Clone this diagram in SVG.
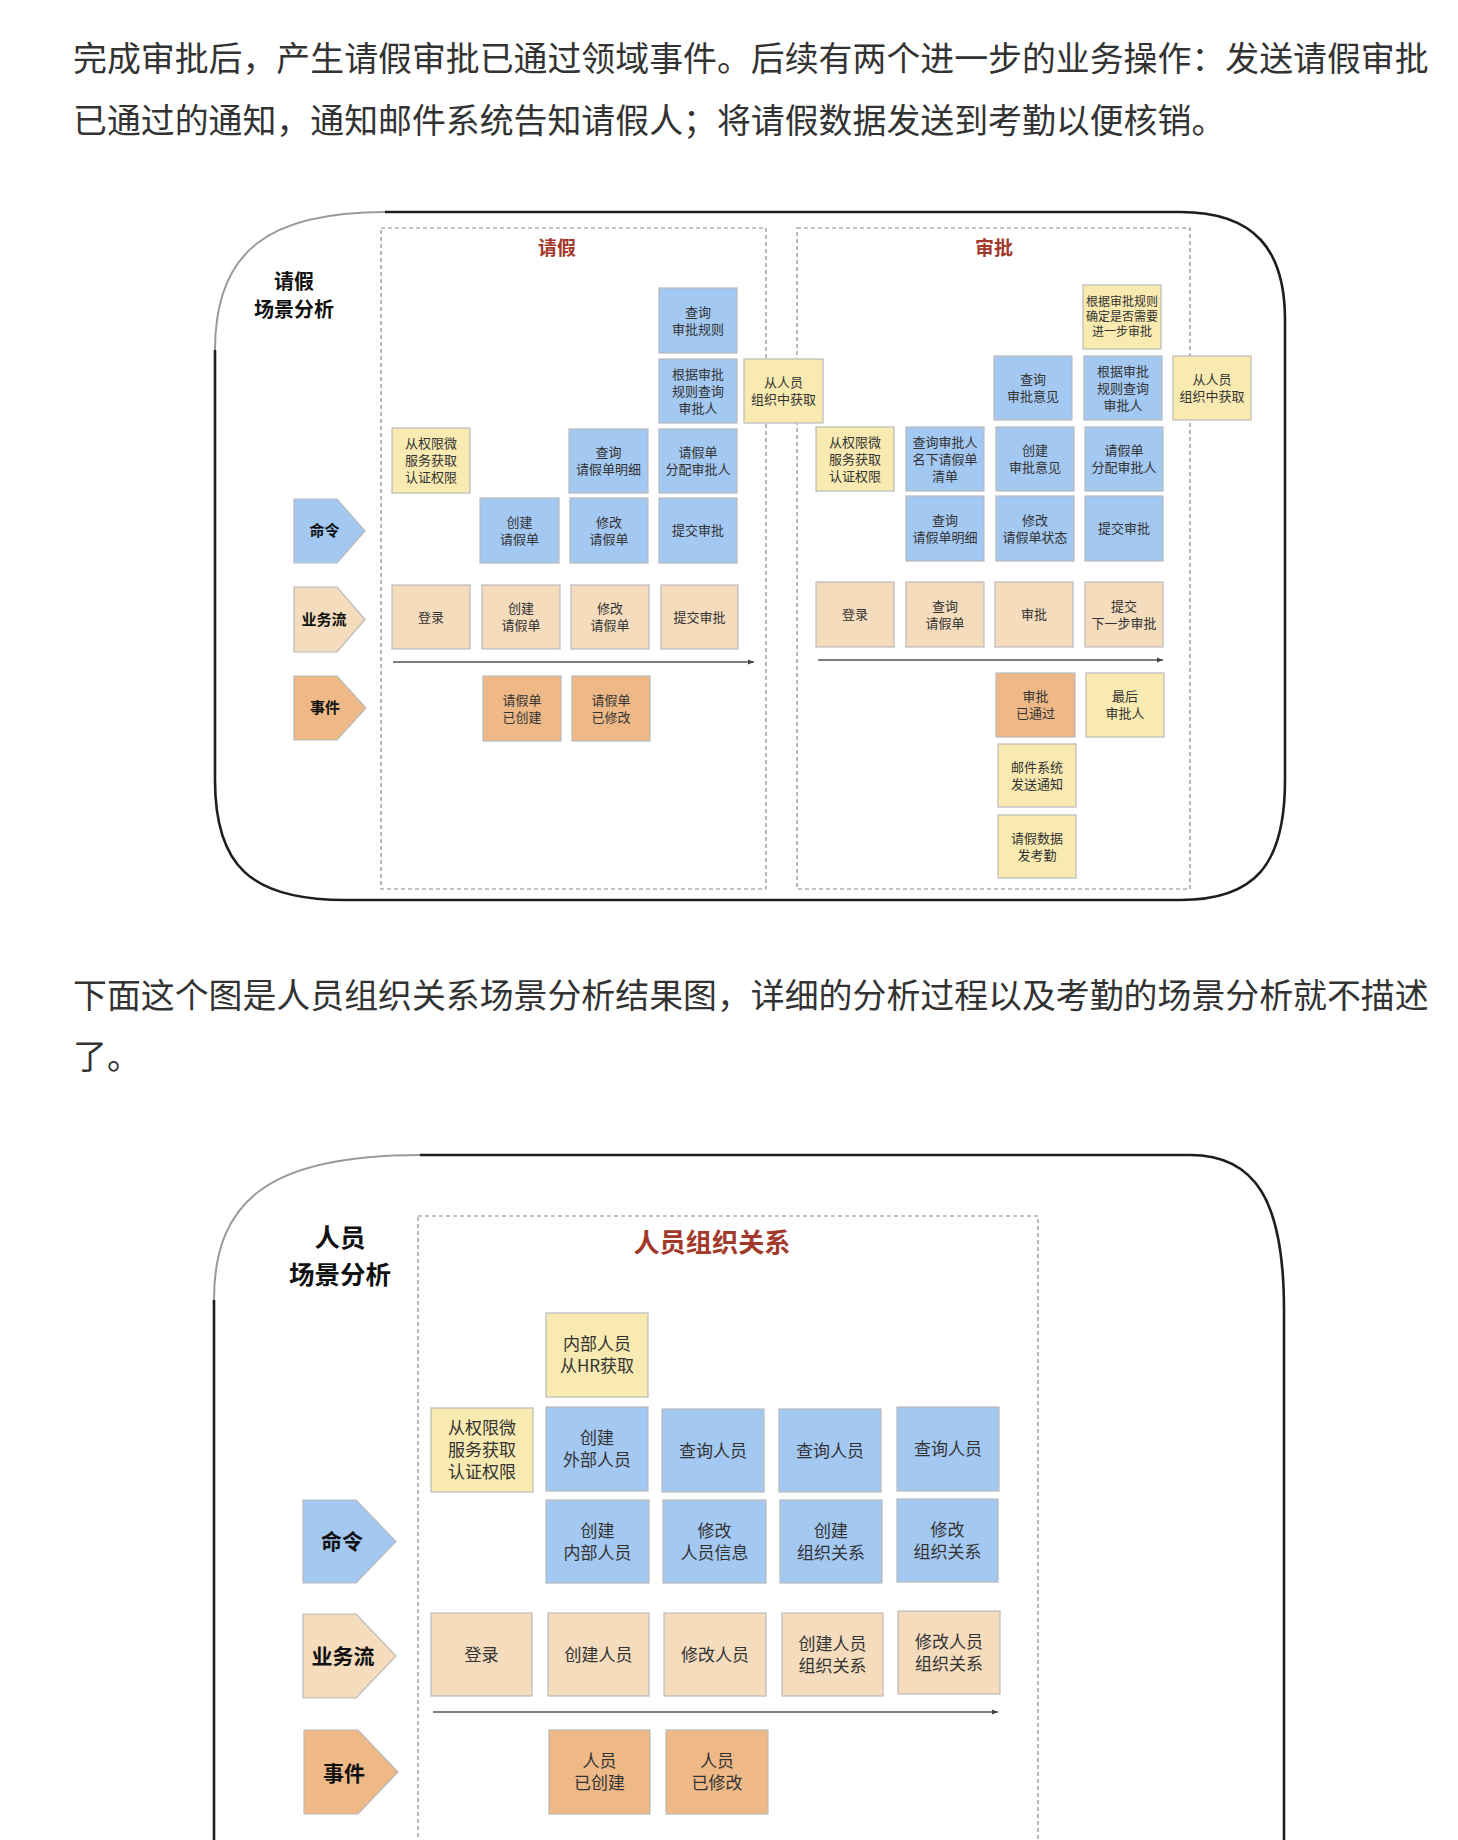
<svg xmlns="http://www.w3.org/2000/svg" width="1458" height="1840" viewBox="0 0 1458 1840">
<style>
.para{font-family:"Noto Sans CJK SC","Noto Sans",sans-serif;font-size:33.9px;fill:#333}
.box{stroke:#b9b9b9;stroke-width:1.2}
.b{fill:#a3c8f2}.y{fill:#f8eab0}.p{fill:#f4dcbd}.o{fill:#eeb987}
.t{font-family:"Noto Sans CJK SC","Noto Sans",sans-serif;fill:#333;text-anchor:middle}
.s13{font-size:13px}.s12{font-size:12px}.s17{font-size:17px}
.lbl{font-family:"Noto Sans CJK SC","Noto Sans",sans-serif;font-weight:bold;fill:#111;text-anchor:middle}
.ttl{font-family:"Noto Sans CJK SC","Noto Sans",sans-serif;font-weight:bold;fill:#a3392b;text-anchor:middle}
.dash{fill:none;stroke:#888;stroke-width:1.2;stroke-dasharray:4 3}
.outer{fill:none;stroke:#1e1e1e;stroke-width:2.6}
.outerl{fill:none;stroke:#9a9a9a;stroke-width:2}
.flow{stroke:#555;stroke-width:1.6;fill:none}
</style>
<defs>
<marker id="ah" markerWidth="8" markerHeight="8" refX="6" refY="4" orient="auto" markerUnits="userSpaceOnUse">
<path d="M0,1.5 L6,4 L0,6.5 Z" fill="#444"/>
</marker>
</defs>
<rect width="1458" height="1840" fill="#fff"/>

<g id="paragraph1">
<text class="para" x="73" y="70.5">完成审批后，产生请假审批已通过领域事件。后续有两个进一步的业务操作：发送请假审批</text>
<text class="para" x="73" y="132.5">已通过的通知，通知邮件系统告知请假人；将请假数据发送到考勤以便核销。</text>
</g>

<g id="diagram1-frame">
<path class="outer" d="M215,350 L215,780 C215,865 250,900 345,900 L1180,900 C1255,900 1285,865 1285,780 L1285,320 C1285,250 1255,212 1180,212 L385,212"/>
<path class="outerl" d="M385,212 C270,212 215,250 215,350"/>
<rect class="dash" x="381" y="228" width="385" height="661"/>
<rect class="dash" x="797" y="228" width="393" height="661"/>
<text class="lbl" x="294" y="289" font-size="20">请假</text>
<text class="lbl" x="294" y="317" font-size="20">场景分析</text>
<text class="ttl" x="557" y="255" font-size="19">请假</text>
<text class="ttl" x="994" y="255" font-size="19">审批</text>
</g>

<g id="d1-lane-cmd"><polygon class="box b" points="294,499 337,499 365,531 337,563 294,563"/><text class="lbl" x="324.5" y="536.4" font-size="15">命令</text></g>
<g id="d1-lane-flow"><polygon class="box p" points="294,587 337,587 365,619.5 337,652 294,652"/><text class="lbl" x="324" y="625" font-size="15">业务流</text></g>
<g id="d1-lane-event"><polygon class="box o" points="294,676 337,676 366,708 337,740 294,740"/><text class="lbl" x="325" y="713.4" font-size="15">事件</text></g>

<g id="d1-connectors">
<line class="flow" x1="393" y1="662" x2="754" y2="662" marker-end="url(#ah)"/>
<line class="flow" x1="818" y1="660" x2="1163" y2="660" marker-end="url(#ah)"/>
</g>

<!-- 请假 section -->
<g id="qj-query-rule"><rect class="box b" x="659" y="288" width="78" height="65"/><text class="t s13"><tspan x="698" y="316.7">查询</tspan><tspan x="698" y="333.7">审批规则</tspan></text></g>
<g id="qj-find-approver"><rect class="box b" x="659" y="359" width="78" height="64"/><text class="t s13"><tspan x="698" y="378.7">根据审批</tspan><tspan x="698" y="395.7">规则查询</tspan><tspan x="698" y="412.7">审批人</tspan></text></g>
<g id="qj-from-org"><rect class="box y" x="744" y="359" width="79" height="64"/><text class="t s13"><tspan x="783.5" y="387.2">从人员</tspan><tspan x="783.5" y="404.2">组织中获取</tspan></text></g>
<g id="qj-auth"><rect class="box y" x="392" y="428" width="78" height="65"/><text class="t s13"><tspan x="431" y="448.2">从权限微</tspan><tspan x="431" y="465.2">服务获取</tspan><tspan x="431" y="482.2">认证权限</tspan></text></g>
<g id="qj-query-detail"><rect class="box b" x="569" y="429" width="79" height="64"/><text class="t s13"><tspan x="608.5" y="457.2">查询</tspan><tspan x="608.5" y="474.2">请假单明细</tspan></text></g>
<g id="qj-assign"><rect class="box b" x="659" y="429" width="78" height="64"/><text class="t s13"><tspan x="698" y="457.2">请假单</tspan><tspan x="698" y="474.2">分配审批人</tspan></text></g>
<g id="qj-cmd-create"><rect class="box b" x="480" y="498" width="79" height="65"/><text class="t s13"><tspan x="519.5" y="526.7">创建</tspan><tspan x="519.5" y="543.7">请假单</tspan></text></g>
<g id="qj-cmd-modify"><rect class="box b" x="570" y="498" width="78" height="65"/><text class="t s13"><tspan x="609" y="526.7">修改</tspan><tspan x="609" y="543.7">请假单</tspan></text></g>
<g id="qj-cmd-submit"><rect class="box b" x="659" y="498" width="78" height="65"/><text class="t s13" x="698" y="535.2">提交审批</text></g>
<g id="qj-flow-login"><rect class="box p" x="392" y="585" width="78" height="64"/><text class="t s13" x="431" y="621.7">登录</text></g>
<g id="qj-flow-create"><rect class="box p" x="482" y="585" width="78" height="64"/><text class="t s13"><tspan x="521" y="613.2">创建</tspan><tspan x="521" y="630.2">请假单</tspan></text></g>
<g id="qj-flow-modify"><rect class="box p" x="571" y="585" width="78" height="64"/><text class="t s13"><tspan x="610" y="613.2">修改</tspan><tspan x="610" y="630.2">请假单</tspan></text></g>
<g id="qj-flow-submit"><rect class="box p" x="661" y="585" width="77" height="64"/><text class="t s13" x="699.5" y="621.7">提交审批</text></g>
<g id="qj-ev-created"><rect class="box o" x="483" y="676" width="78" height="65"/><text class="t s13"><tspan x="522" y="704.7">请假单</tspan><tspan x="522" y="721.7">已创建</tspan></text></g>
<g id="qj-ev-modified"><rect class="box o" x="572" y="676" width="78" height="65"/><text class="t s13"><tspan x="611" y="704.7">请假单</tspan><tspan x="611" y="721.7">已修改</tspan></text></g>

<!-- 审批 section -->
<g id="sp-rule-next"><rect class="box y" x="1083" y="285" width="78" height="64"/><text class="t s12"><tspan x="1122" y="306.3">根据审批规则</tspan><tspan x="1122" y="321.3">确定是否需要</tspan><tspan x="1122" y="336.3">进一步审批</tspan></text></g>
<g id="sp-query-opinion"><rect class="box b" x="994" y="356" width="78" height="64"/><text class="t s13"><tspan x="1033" y="384.2">查询</tspan><tspan x="1033" y="401.2">审批意见</tspan></text></g>
<g id="sp-find-approver"><rect class="box b" x="1084" y="356" width="78" height="64"/><text class="t s13"><tspan x="1123" y="375.7">根据审批</tspan><tspan x="1123" y="392.7">规则查询</tspan><tspan x="1123" y="409.7">审批人</tspan></text></g>
<g id="sp-from-org"><rect class="box y" x="1173" y="356" width="78" height="64"/><text class="t s13"><tspan x="1212" y="384.2">从人员</tspan><tspan x="1212" y="401.2">组织中获取</tspan></text></g>
<g id="sp-auth"><rect class="box y" x="816" y="427" width="78" height="64"/><text class="t s13"><tspan x="855" y="446.7">从权限微</tspan><tspan x="855" y="463.7">服务获取</tspan><tspan x="855" y="480.7">认证权限</tspan></text></g>
<g id="sp-query-list"><rect class="box b" x="906" y="427" width="78" height="64"/><text class="t s13"><tspan x="945" y="446.7">查询审批人</tspan><tspan x="945" y="463.7">名下请假单</tspan><tspan x="945" y="480.7">清单</tspan></text></g>
<g id="sp-create-opinion"><rect class="box b" x="996" y="427" width="78" height="64"/><text class="t s13"><tspan x="1035" y="455.2">创建</tspan><tspan x="1035" y="472.2">审批意见</tspan></text></g>
<g id="sp-assign"><rect class="box b" x="1085" y="427" width="78" height="64"/><text class="t s13"><tspan x="1124" y="455.2">请假单</tspan><tspan x="1124" y="472.2">分配审批人</tspan></text></g>
<g id="sp-query-detail"><rect class="box b" x="906" y="496" width="78" height="65"/><text class="t s13"><tspan x="945" y="524.7">查询</tspan><tspan x="945" y="541.7">请假单明细</tspan></text></g>
<g id="sp-modify-state"><rect class="box b" x="996" y="496" width="78" height="65"/><text class="t s13"><tspan x="1035" y="524.7">修改</tspan><tspan x="1035" y="541.7">请假单状态</tspan></text></g>
<g id="sp-cmd-submit"><rect class="box b" x="1085" y="496" width="78" height="65"/><text class="t s13" x="1124" y="533.2">提交审批</text></g>
<g id="sp-flow-login"><rect class="box p" x="816" y="582" width="78" height="65"/><text class="t s13" x="855" y="619.2">登录</text></g>
<g id="sp-flow-query"><rect class="box p" x="906" y="582" width="78" height="65"/><text class="t s13"><tspan x="945" y="610.7">查询</tspan><tspan x="945" y="627.7">请假单</tspan></text></g>
<g id="sp-flow-approve"><rect class="box p" x="995" y="582" width="78" height="65"/><text class="t s13" x="1034" y="619.2">审批</text></g>
<g id="sp-flow-next"><rect class="box p" x="1085" y="582" width="78" height="65"/><text class="t s13"><tspan x="1124" y="610.7">提交</tspan><tspan x="1124" y="627.7">下一步审批</tspan></text></g>
<g id="sp-ev-passed"><rect class="box o" x="996" y="673" width="79" height="64"/><text class="t s13"><tspan x="1035.5" y="701.2">审批</tspan><tspan x="1035.5" y="718.2">已通过</tspan></text></g>
<g id="sp-last-approver"><rect class="box y" x="1086" y="673" width="78" height="64"/><text class="t s13"><tspan x="1125" y="701.2">最后</tspan><tspan x="1125" y="718.2">审批人</tspan></text></g>
<g id="sp-mail"><rect class="box y" x="998" y="744" width="78" height="63"/><text class="t s13"><tspan x="1037" y="771.7">邮件系统</tspan><tspan x="1037" y="788.7">发送通知</tspan></text></g>
<g id="sp-attendance"><rect class="box y" x="998" y="815" width="78" height="63"/><text class="t s13"><tspan x="1037" y="842.7">请假数据</tspan><tspan x="1037" y="859.7">发考勤</tspan></text></g>

<g id="paragraph2">
<text class="para" x="73" y="1008">下面这个图是人员组织关系场景分析结果图，详细的分析过程以及考勤的场景分析就不描述</text>
<text class="para" x="73" y="1069">了。</text>
</g>

<g id="diagram2-frame">
<path class="outer" d="M214,1860 L214,1300 M420,1155 L1190,1155 C1255,1155 1284,1200 1284,1310 L1284,1860"/>
<path class="outerl" d="M214,1300 C214,1200 270,1155 420,1155"/>
<rect class="dash" x="418" y="1216" width="620" height="660"/>
<text class="lbl" x="340" y="1247" font-size="25.5">人员</text>
<text class="lbl" x="340" y="1284" font-size="25.5">场景分析</text>
<text class="ttl" x="712" y="1251.5" font-size="26.2">人员组织关系</text>
</g>

<g id="d2-lane-cmd"><polygon class="box b" points="303,1500 356,1500 396,1541.5 356,1583 303,1583"/><text class="lbl" x="342" y="1549" font-size="21">命令</text></g>
<g id="d2-lane-flow"><polygon class="box p" points="303,1614 356,1614 396,1656 356,1698 303,1698"/><text class="lbl" x="343" y="1664" font-size="21">业务流</text></g>
<g id="d2-lane-event"><polygon class="box o" points="304,1730 358,1730 398,1772 358,1814 304,1814"/><text class="lbl" x="344" y="1780.5" font-size="21">事件</text></g>

<g id="d2-connectors">
<line class="flow" x1="433" y1="1712" x2="998" y2="1712" marker-end="url(#ah)"/>
</g>

<g id="ry-hr"><rect class="box y" x="546" y="1313" width="102" height="84"/><text class="t s17"><tspan x="597" y="1350.1">内部人员</tspan><tspan x="597" y="1372.1">从HR获取</tspan></text></g>
<g id="ry-auth"><rect class="box y" x="431" y="1408" width="102" height="84"/><text class="t s17"><tspan x="482" y="1434.1">从权限微</tspan><tspan x="482" y="1456.1">服务获取</tspan><tspan x="482" y="1478.1">认证权限</tspan></text></g>
<g id="ry-create-ext"><rect class="box b" x="546" y="1407" width="102" height="84"/><text class="t s17"><tspan x="597" y="1444.1">创建</tspan><tspan x="597" y="1466.1">外部人员</tspan></text></g>
<g id="ry-query1"><rect class="box b" x="662" y="1409" width="102" height="83"/><text class="t s17" x="713" y="1456.6">查询人员</text></g>
<g id="ry-query2"><rect class="box b" x="779" y="1409" width="102" height="83"/><text class="t s17" x="830" y="1456.6">查询人员</text></g>
<g id="ry-query3"><rect class="box b" x="897" y="1407" width="102" height="84"/><text class="t s17" x="948" y="1455">查询人员</text></g>
<g id="ry-create-int"><rect class="box b" x="546" y="1500" width="103" height="83"/><text class="t s17"><tspan x="597.5" y="1536.6">创建</tspan><tspan x="597.5" y="1558.6">内部人员</tspan></text></g>
<g id="ry-modify-info"><rect class="box b" x="663" y="1500" width="103" height="83"/><text class="t s17"><tspan x="714.5" y="1536.6">修改</tspan><tspan x="714.5" y="1558.6">人员信息</tspan></text></g>
<g id="ry-create-rel"><rect class="box b" x="780" y="1500" width="102" height="83"/><text class="t s17"><tspan x="831" y="1536.6">创建</tspan><tspan x="831" y="1558.6">组织关系</tspan></text></g>
<g id="ry-modify-rel"><rect class="box b" x="897" y="1499" width="101" height="83"/><text class="t s17"><tspan x="947.5" y="1535.6">修改</tspan><tspan x="947.5" y="1557.6">组织关系</tspan></text></g>
<g id="ry-flow-login"><rect class="box p" x="431" y="1613" width="101" height="83"/><text class="t s17" x="481.5" y="1660.6">登录</text></g>
<g id="ry-flow-create"><rect class="box p" x="548" y="1613" width="101" height="83"/><text class="t s17" x="598.5" y="1660.6">创建人员</text></g>
<g id="ry-flow-modify"><rect class="box p" x="664" y="1613" width="102" height="83"/><text class="t s17" x="715" y="1660.6">修改人员</text></g>
<g id="ry-flow-create-rel"><rect class="box p" x="782" y="1613" width="101" height="83"/><text class="t s17"><tspan x="832.5" y="1649.6">创建人员</tspan><tspan x="832.5" y="1671.6">组织关系</tspan></text></g>
<g id="ry-flow-modify-rel"><rect class="box p" x="898" y="1611" width="102" height="83"/><text class="t s17"><tspan x="949" y="1647.6">修改人员</tspan><tspan x="949" y="1669.6">组织关系</tspan></text></g>
<g id="ry-ev-created"><rect class="box o" x="549" y="1730" width="101" height="84"/><text class="t s17"><tspan x="599.5" y="1767.1">人员</tspan><tspan x="599.5" y="1789.1">已创建</tspan></text></g>
<g id="ry-ev-modified"><rect class="box o" x="666" y="1730" width="102" height="84"/><text class="t s17"><tspan x="717" y="1767.1">人员</tspan><tspan x="717" y="1789.1">已修改</tspan></text></g>
</svg>
